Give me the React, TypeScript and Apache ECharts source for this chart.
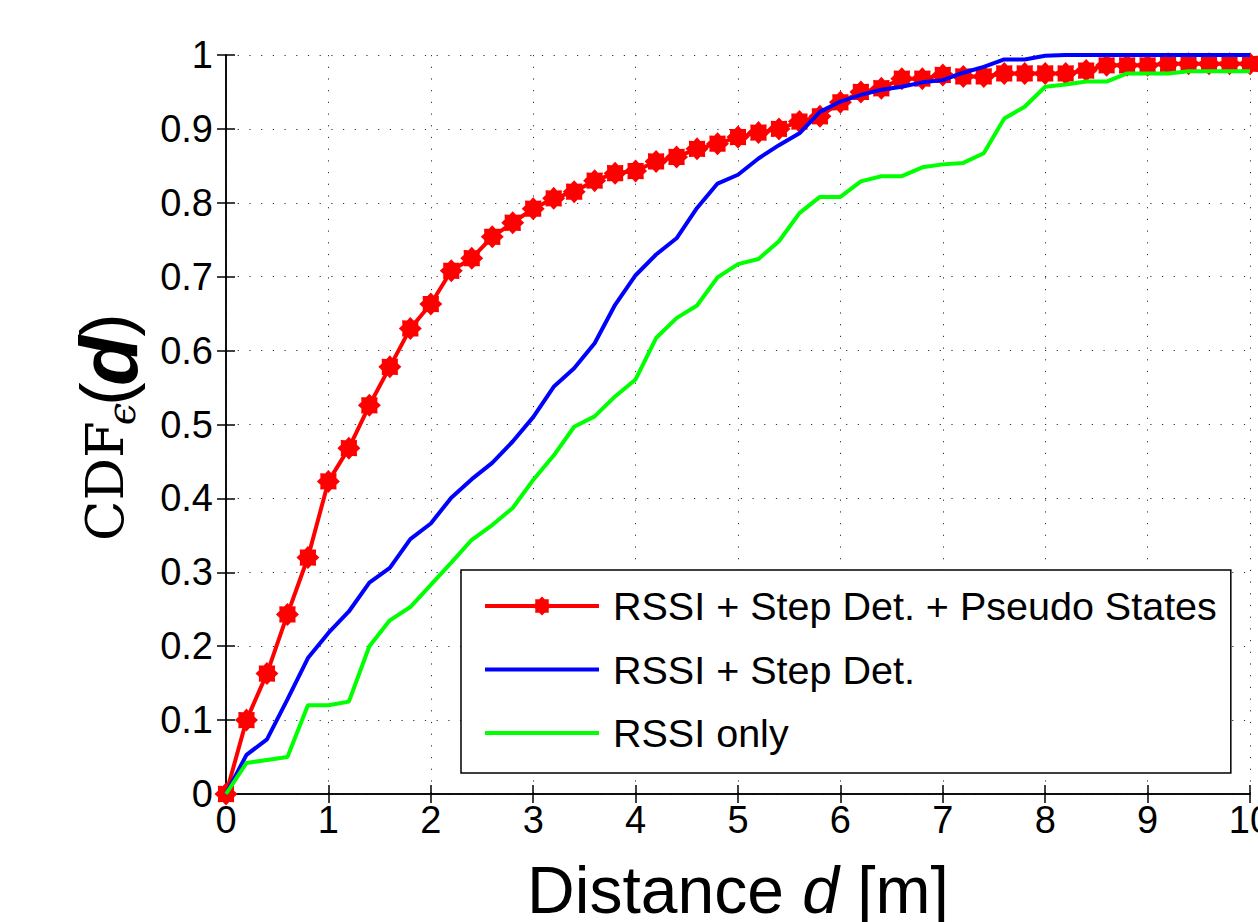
import React, { useEffect, useRef } from "react";
import * as echarts from "echarts";

const distances = [
  0, 0.2, 0.4, 0.6, 0.8, 1, 1.2, 1.4, 1.6, 1.8, 2, 2.2, 2.4, 2.6, 2.8, 3, 3.2, 3.4, 3.6, 3.8,
  4, 4.2, 4.4, 4.6, 4.8, 5, 5.2, 5.4, 5.6, 5.8, 6, 6.2, 6.4, 6.6, 6.8, 7, 7.2, 7.4, 7.6, 7.8,
  8, 8.2, 8.4, 8.6, 8.8, 9, 9.2, 9.4, 9.6, 9.8, 10,
];

const seriesNames = [
  "RSSI + Step Det. + Pseudo States",
  "RSSI + Step Det.",
  "RSSI only",
];

const pseudoStates = [
  0, 0.1, 0.163, 0.243, 0.32, 0.423, 0.468, 0.526, 0.578, 0.63, 0.663, 0.708, 0.725, 0.754,
  0.773, 0.792, 0.806, 0.815, 0.83, 0.84, 0.843, 0.856, 0.862, 0.873, 0.88, 0.889, 0.895, 0.9,
  0.91, 0.917, 0.936, 0.95, 0.955, 0.968, 0.968, 0.973, 0.971, 0.971, 0.975, 0.975, 0.975,
  0.975, 0.979, 0.986, 0.986, 0.986, 0.988, 0.988, 0.988, 0.988, 0.988,
];

const stepDet = [
  0, 0.053, 0.074, 0.128, 0.184, 0.218, 0.247, 0.286, 0.306, 0.345, 0.366, 0.401, 0.426, 0.448,
  0.477, 0.51, 0.551, 0.576, 0.61, 0.662, 0.702, 0.73, 0.752, 0.793, 0.826, 0.838, 0.86, 0.878,
  0.894, 0.923, 0.937, 0.946, 0.953, 0.957, 0.963, 0.966, 0.976, 0.984, 0.994, 0.994, 0.999,
  1, 1, 1, 1, 1, 1, 1, 1, 1, 1,
];

const rssiOnly = [
  0, 0.042, 0.046, 0.05, 0.12, 0.12, 0.125, 0.2, 0.235, 0.253, 0.283, 0.313, 0.344, 0.364,
  0.387, 0.425, 0.458, 0.497, 0.511, 0.538, 0.561, 0.617, 0.644, 0.661, 0.699, 0.717, 0.724,
  0.748, 0.786, 0.808, 0.808, 0.829, 0.836, 0.836, 0.848, 0.852, 0.854, 0.867, 0.914, 0.93,
  0.957, 0.96, 0.964, 0.964, 0.975, 0.975, 0.975, 0.978, 0.978, 0.978, 0.978,
];

const xTickLabels = ["0", "1", "2", "3", "4", "5", "6", "7", "8", "9", "10"];
const yTickLabels = ["0", "0.1", "0.2", "0.3", "0.4", "0.5", "0.6", "0.7", "0.8", "0.9", "1"];

function starPath(): string {
  const pts: string[] = [];
  const n = 16;
  for (let i = 0; i < n; i++) {
    const a = (i * Math.PI * 2) / n - Math.PI / 2;
    const r = i % 2 === 0 ? 10 : 7.5;
    pts.push((i === 0 ? "M" : "L") + (r * Math.cos(a)).toFixed(3) + " " + (r * Math.sin(a)).toFixed(3));
  }
  return "path://" + pts.join(" ") + " Z";
}

const SANS = '"Liberation Sans", Arial, sans-serif';
const SERIF = '"DejaVu Serif", "Liberation Serif", serif';

export default function App() {
  const ref = useRef<HTMLDivElement>(null);
  useEffect(() => {
    if (!ref.current) return;
    const chart = echarts.init(ref.current, undefined, { renderer: "svg" });
    const toPairs = (ys: number[]) => distances.map((x, i) => [x, ys[i]]);
    const rot = Math.PI / 2;
    const tickStyle = { show: true, inside: true, length: 9, lineStyle: { color: "#000", width: 1.5 } };
    const axisLine = { show: true, lineStyle: { color: "#000", width: 1.5 } };
    const gridLine = { show: true, lineStyle: { color: "#333", width: 1, type: [1.2, 10.5] as any } };
    chart.setOption({
      animation: false,
      backgroundColor: "#fff",
      grid: {
        left: 226,
        top: 55,
        right: 8,
        bottom: 128,
        containLabel: false,
        outerBoundsMode: "none",
      },
      xAxis: [
        {
          type: "value",
          position: "bottom",
          min: 0,
          max: 10,
          interval: 1,
          axisLine,
          axisTick: tickStyle,
          splitLine: gridLine,
          axisLabel: {
            show: true,
            margin: 7,
            fontSize: 38,
            fontFamily: SANS,
            color: "#000",
            showMinLabel: true,
            showMaxLabel: true,
            hideOverlap: false,
            formatter: (v: number) => xTickLabels[Math.round(v)] ?? "",
          },
          name: "{t|Distance }{i|d}{t| [m]}",
          nameLocation: "middle",
          nameGap: 63,
          nameTextStyle: {
            rich: {
              t: { fontSize: 66, fontFamily: SANS, color: "#000" },
              i: { fontSize: 66, fontFamily: SANS, fontStyle: "italic", color: "#000" },
            },
          },
        },
        {
          type: "value",
          position: "top",
          min: 0,
          max: 10,
          interval: 1,
          axisLine,
          axisTick: tickStyle,
          splitLine: { show: false },
          axisLabel: { show: false },
        },
      ],
      yAxis: [
        {
          type: "value",
          position: "left",
          min: 0,
          max: 1,
          interval: 0.1,
          axisLine,
          axisTick: tickStyle,
          splitLine: gridLine,
          axisLabel: {
            show: true,
            margin: 13,
            fontSize: 38,
            fontFamily: SANS,
            color: "#000",
            showMinLabel: true,
            showMaxLabel: true,
            formatter: (v: number) => yTickLabels[Math.round(v * 10)] ?? "",
          },
        },
        {
          type: "value",
          position: "right",
          min: 0,
          max: 1,
          interval: 0.1,
          axisLine,
          axisTick: tickStyle,
          splitLine: { show: false },
          axisLabel: { show: false },
        },
      ],
      legend: {
        show: true,
        orient: "vertical",
        left: 461,
        top: 570,
        padding: [16, 14, 20, 22],
        itemWidth: 114,
        itemHeight: 24,
        itemGap: 23.5,
        borderColor: "#000",
        borderWidth: 1.5,
        backgroundColor: "#fff",
        borderRadius: 0,
        lineStyle: { width: 4 },
        textStyle: {
          fontSize: 39.5,
          lineHeight: 40,
          fontFamily: SANS,
          color: "#000",
          padding: [0, 0, 0, 9],
        },
        data: seriesNames,
      },
      series: [
        {
          name: seriesNames[0],
          type: "line",
          data: toPairs(pseudoStates),
          clip: false,
          symbol: starPath(),
          symbolSize: 23,
          showAllSymbol: true,
          lineStyle: { color: "#ff0000", width: 4 },
          itemStyle: { color: "#ff0000" },
          z: 2,
        },
        {
          name: seriesNames[1],
          type: "line",
          data: toPairs(stepDet),
          clip: false,
          symbol: "circle",
          showSymbol: false,
          lineStyle: { color: "#0000ff", width: 4 },
          itemStyle: { color: "#0000ff", opacity: 0 },
          z: 3,
        },
        {
          name: seriesNames[2],
          type: "line",
          data: toPairs(rssiOnly),
          clip: false,
          symbol: "circle",
          showSymbol: false,
          lineStyle: { color: "#00ff00", width: 4 },
          itemStyle: { color: "#00ff00", opacity: 0 },
          z: 3,
        },
      ],
      graphic: [
        {
          type: "text",
          x: 104,
          y: 541,
          rotation: rot,
          style: { text: "CDF", font: "normal 53px " + SERIF, fill: "#000", align: "left", verticalAlign: "middle" },
        },
        {
          type: "text",
          x: 121,
          y: 414,
          rotation: rot,
          style: { text: "ϵ", font: "italic 40px " + SERIF, fill: "#000", align: "center", verticalAlign: "middle" },
        },
        {
          type: "text",
          x: 106,
          y: 394,
          rotation: rot,
          style: { text: "(", font: "normal 70px " + SANS, fill: "#000", align: "center", verticalAlign: "middle" },
        },
        {
          type: "text",
          x: 108,
          y: 361,
          rotation: rot,
          style: { text: "d", font: "italic bold 82px " + SANS, fill: "#000", align: "center", verticalAlign: "middle" },
        },
        {
          type: "text",
          x: 106,
          y: 325,
          rotation: rot,
          style: { text: ")", font: "normal 70px " + SANS, fill: "#000", align: "center", verticalAlign: "middle" },
        },
      ],
    });
    return () => chart.dispose();
  }, []);
  return (
    <div
      ref={ref}
      style={{ position: "absolute", left: 0, top: 0, width: 1258, height: 922, background: "#fff" }}
    />
  );
}
